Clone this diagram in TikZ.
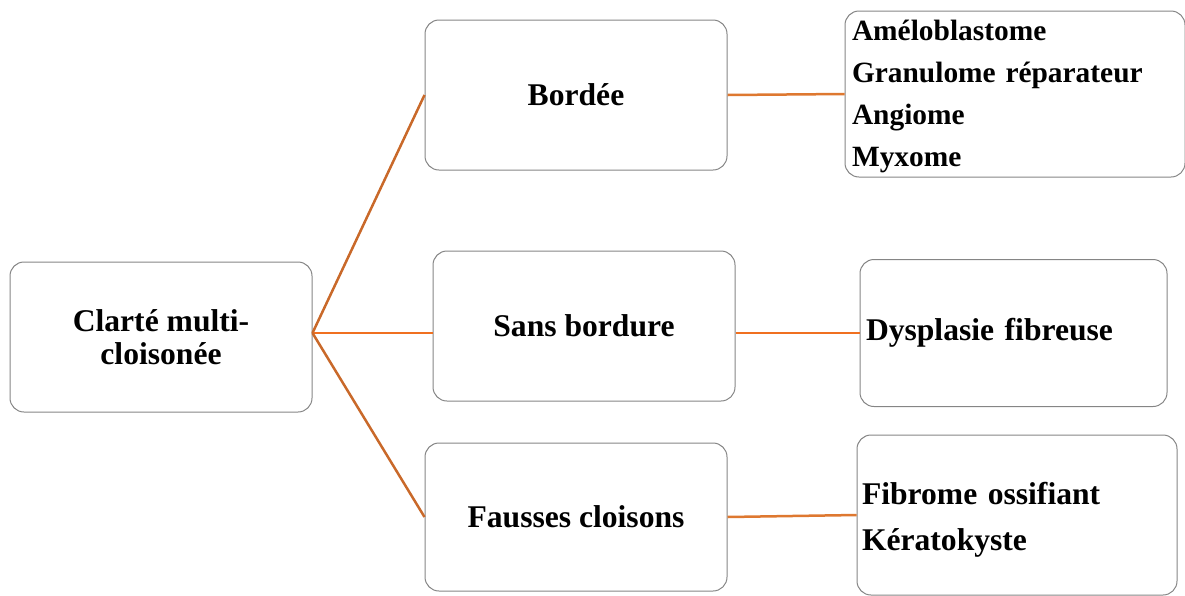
\documentclass[tikz,border=0pt]{standalone}
\usepackage{fontspec}
\setmainfont{Liberation Serif}
\definecolor{boxgray}{HTML}{858585}
\definecolor{linkdark}{HTML}{C9692A}
\definecolor{linkmid}{HTML}{DE7830}
\definecolor{linklight}{HTML}{F07020}
\begin{document}
\begin{tikzpicture}[x=1pt,y=-1pt,
  box/.style={draw=boxgray, line width=1pt, rounded corners=14pt, inner sep=0pt, font=\bfseries\fontsize{31.6}{33}\selectfont, align=center},
  mainlink/.style={draw=linkdark, line width=2.5pt},
  sidelink/.style={draw=linkmid, line width=2.5pt},
  minorlink/.style={draw=linklight, line width=1.5pt}]
\useasboundingbox (0,0) rectangle (1185,595);
\node[box, minimum width=302, minimum height=150] (root) at (161,337) {Clarté multi-\\cloisonée};
\node[box, minimum width=302, minimum height=150] (bordee) at (576,95) {Bordée};
\node[box, minimum width=302, minimum height=150] (sans) at (584,326) {Sans bordure};
\node[box, minimum width=302, minimum height=148] (fausses) at (576,517) {Fausses cloisons};
\node[box, minimum width=340, minimum height=166, text width=326, inner xsep=7pt, align=left, text height=26pt, font=\bfseries\fontsize{29.4}{42}\selectfont] (tr) at (1015,94) {Améloblastome\\Granulome réparateur\\Angiome\\Myxome};
\node[box, minimum width=307, minimum height=147, text width=295, inner xsep=6pt, align=left] (dys) at (1013.5,333) {Dysplasie fibreuse};
\node[box, minimum width=320, minimum height=160, text width=310, inner xsep=5pt, align=left, text height=31pt, font=\bfseries\fontsize{31.6}{46}\selectfont] (fib) at (1017,515) {Fibrome ossifiant\\Kératokyste};
\coordinate (apex) at ([yshift=4pt]root.east);
\draw[mainlink] (apex) -- (bordee.west);
\draw[minorlink] (apex) -- (apex -| sans.west);
\draw[mainlink] (apex) -- (fausses.west);
\draw[sidelink] (bordee.east) -- (tr.west);
\draw[minorlink] (sans.east |- dys.west) -- (dys.west);
\draw[sidelink] (fausses.east) -- (fib.west);
\end{tikzpicture}
\end{document}
